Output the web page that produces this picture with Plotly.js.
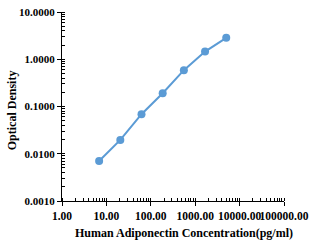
<!DOCTYPE html>
<html><head><meta charset="utf-8">
<script src="https://cdn.plot.ly/plotly-3.0.1.min.js"></script>
<style>html,body{margin:0;padding:0;background:#fff}#c{width:309px;height:243px}</style>
</head><body><div id="c"></div>
<script>
const concentration = [6.86, 20.58, 61.73, 185.19, 555.56, 1666.67, 5000];
const opticalDensity = [0.0070, 0.0196, 0.0687, 0.191, 0.587, 1.456, 2.84];
const xTickVals = [1, 10, 100, 1000, 10000, 100000];
const xTickText = ["1.00", "10.00", "100.00", "1000.00", "10000.00", "100000.00"];
const yTickVals = [0.001, 0.01, 0.1, 1, 10];
const yTickText = ["0.0010", "0.0100", "0.1000", "1.0000", "10.0000"];
const xTitle = "Human Adiponectin Concentration(pg/ml)";
const yTitle = "Optical Density";

const fam = "Liberation Serif, Times New Roman, serif";
const bold = arr => arr.map(s => "<b>" + s + "</b>");
const trace = {
  x: concentration, y: opticalDensity, type: "scatter", mode: "lines+markers",
  line: {color: "#5B9BD5", width: 2},
  marker: {color: "#5B9BD5", size: 8},
  hoverinfo: "skip"
};
const axisCommon = {
  showgrid: false, zeroline: false, showline: true, linecolor: "#000", linewidth: 1,
  ticks: "outside", ticklen: 4, tickcolor: "#000", tickwidth: 1, tickangle: 0,
  minor: {ticks: "inside", ticklen: 3, tickcolor: "#000", tickwidth: 1, dtick: "D1"}
};
const layout = {
  width: 309, height: 243,
  margin: {l: 62, r: 25, t: 12, b: 42},
  paper_bgcolor: "#fff", plot_bgcolor: "#fff",
  showlegend: false,
  font: {family: fam, size: 11, color: "#000"},
  xaxis: Object.assign({}, axisCommon, {
    type: "log", range: [0, 5], tickvals: xTickVals, ticktext: bold(xTickText),
    tickfont: {family: fam, size: 11.5, color: "#000"}
  }),
  yaxis: Object.assign({}, axisCommon, {
    type: "log", range: [-3, 1], tickvals: yTickVals, ticktext: bold(yTickText),
    tickfont: {family: fam, size: 11, color: "#000"}
  }),
  annotations: [
    {text: "<b>" + xTitle + "</b>", xref: "paper", yref: "paper", x: 0.55, y: 0,
     yshift: -32, xanchor: "center", yanchor: "middle", showarrow: false,
     font: {family: fam, size: 12, color: "#000"}},
    {text: "<b>" + yTitle + "</b>", xref: "paper", yref: "paper", x: 0, y: 0.48,
     xshift: -50, xanchor: "center", yanchor: "middle", showarrow: false, textangle: -90,
     font: {family: fam, size: 12, color: "#000"}}
  ]
};
Plotly.newPlot("c", [trace], layout, {staticPlot: true, displayModeBar: false});
</script></body></html>
